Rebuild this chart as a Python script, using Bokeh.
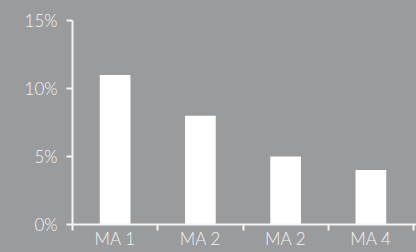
from bokeh.plotting import figure
from bokeh.models import Range1d, FixedTicker, ColumnDataSource
from bokeh.embed import file_html
from bokeh.resources import INLINE

categories = ["MA 1", "MA 2", "MA 2", "MA 4"]
values = [11, 8, 5, 4]
y_ticks = [0, 5, 10, 15]
y_tick_labels = ["0%", "5%", "10%", "15%"]

BG = "#9a9b9d"
FG = "#f4f4f4"
FONT = "'Lato Light', 'Open Sans Light', Lato"

xs = [i + 0.5 for i in range(len(categories))]
src = ColumnDataSource(dict(x=xs, top=values))

p = figure(width=416, height=252, output_backend="svg", toolbar_location=None,
           x_range=Range1d(0, 4.035), y_range=Range1d(0, 15),
           min_border_left=72, min_border_right=0, min_border_top=20, min_border_bottom=28)
p.background_fill_color = BG
p.border_fill_color = BG
p.outline_line_color = None
p.grid.visible = False

p.vbar(x="x", top="top", width=0.36, bottom=0, source=src,
       fill_color="white", line_color=None)

xa = p.xaxis[0]
xa.ticker = FixedTicker(ticks=xs, minor_ticks=list(range(len(categories) + 1)))
xa.major_label_overrides = {x: c for x, c in zip(xs, categories)}
xa.major_tick_out = 0
xa.major_tick_in = 0
xa.minor_tick_out = 6
xa.minor_tick_in = 0
xa.minor_tick_line_color = FG
xa.minor_tick_line_width = 2
xa.major_label_standoff = -3

ya = p.yaxis[0]
ya.ticker = FixedTicker(ticks=y_ticks, minor_ticks=[])
ya.major_label_overrides = {t: l for t, l in zip(y_ticks, y_tick_labels)}
ya.major_tick_out = 6
ya.major_tick_in = 0
ya.minor_tick_out = 0
ya.minor_tick_in = 0
ya.major_label_standoff = 9

for ax in (xa, ya):
    ax.axis_line_color = FG
    ax.axis_line_width = 2
    ax.major_tick_line_color = FG
    ax.major_tick_line_width = 2
    ax.major_label_text_color = FG
    ax.major_label_text_font = FONT
    ax.major_label_text_font_size = "17px"

html = file_html(p, INLINE)
html = html.replace("<head>", "<head><style>html,body{background:%s;margin:0;padding:0;overflow:hidden;}</style>" % BG, 1)
open("out.html", "w").write(html)
